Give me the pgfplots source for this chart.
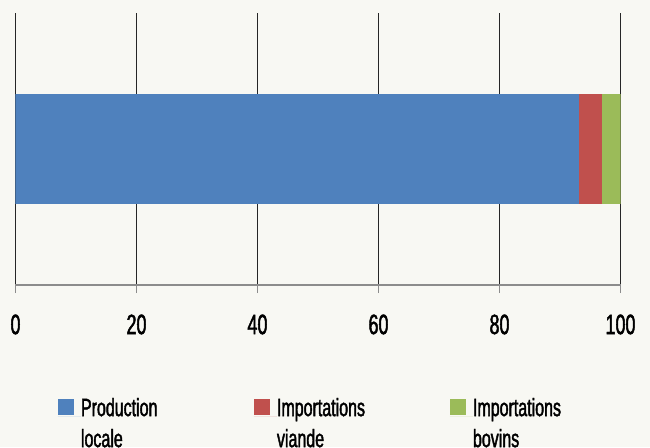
\documentclass[border=0pt]{standalone}
\usepackage{fontspec}
\setmainfont{Liberation Sans}[FakeStretch=0.64, FakeBold=1.6, BoldFont={Liberation Sans}, BoldFeatures={FakeStretch=0.64, FakeBold=1.6}]
\usepackage{pgfplots}
\pgfplotsset{compat=1.18}
\definecolor{bg}{RGB}{248,248,243}
\definecolor{cblue}{RGB}{79,129,189}
\definecolor{cred}{RGB}{192,80,77}
\definecolor{cgreen}{RGB}{155,187,89}
\begin{document}
\begin{tikzpicture}[x=1pt,y=1pt]
\fill[bg] (0,0) rectangle (650,447);
\begin{axis}[
  at={(15.5pt,162pt)}, anchor=south west,
  scale only axis, width=605pt, height=272pt,
  xmin=0, xmax=100, ymin=0, ymax=1,
  xbar stacked, bar width=0.404,
  axis x line=bottom, axis y line=none,
  x axis line style={-, draw=black!45, line width=1.3pt},
  xtick={0,20,...,100}, ytick=\empty,
  xmajorgrids, major grid style={draw=black!85, line width=1.3pt},
  tick align=outside, major tick length=8pt,
  xtick style={draw=black!45, line width=1.3pt},
  /pgf/number format/assume math mode=true,
  xticklabel style={font=\fontsize{28}{30}\selectfont\bfseries, yshift=-18pt},
  legend columns=3,
  legend cell align=left,
  legend style={at={(axis description cs:0.0702,-0.4154)}, anchor=north west,
    draw=none, fill=none, inner sep=0pt, outer sep=0pt,
    font=\fontsize{25}{31}\selectfont\bfseries, column sep=0pt, row sep=0pt,
    nodes={inner sep=0pt, anchor=base west}},
]
\addplot[fill=cblue, draw=none, legend image code/.code={\fill[cblue] (0pt,1pt) rectangle (16pt,17pt); \path (0pt,0pt) -- (23pt,0pt);}] coordinates {(93.2,0.5)};
\addlegendentry{\parbox[t]{173pt}{Production\\locale}}
\addplot[fill=cred, draw=none, legend image code/.code={\fill[cred] (0pt,1pt) rectangle (16pt,17pt); \path (0pt,0pt) -- (23pt,0pt);}] coordinates {(3.7,0.5)};
\addlegendentry{\parbox[t]{173pt}{Importations\\viande}}
\addplot[fill=cgreen, draw=none, legend image code/.code={\fill[cgreen] (0pt,1pt) rectangle (16pt,17pt); \path (0pt,0pt) -- (23pt,0pt);}] coordinates {(3.1,0.5)};
\addlegendentry{\parbox[t]{173pt}{Importations\\bovins}}
\node[font=\fontsize{28}{30}\selectfont\bfseries, anchor=center, xshift=20.5pt, yshift=2pt] at (axis description cs:1,0) {\%};
\end{axis}
\end{tikzpicture}
\end{document}
